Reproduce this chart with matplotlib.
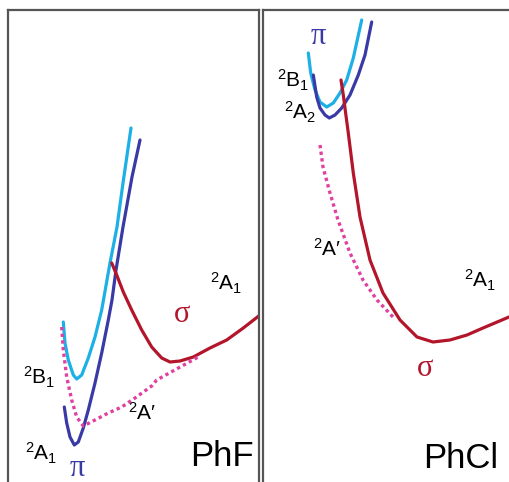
import numpy as np
import matplotlib.pyplot as plt

plt.rcParams['font.family'] = ['Liberation Sans', 'DejaVu Sans']
plt.rcParams['mathtext.fontset'] = 'custom'
plt.rcParams['mathtext.rm'] = 'Liberation Sans'
plt.rcParams['mathtext.it'] = 'Liberation Sans:italic'

# curves: x = coordinate, E = energy (arbitrary units)
# PhF panel
phf_b1_x = [55.3, 57, 60.3, 65.3, 68.7, 73.7, 80.3, 87, 93.7, 102, 109, 115, 123]
phf_b1_e = [160, 139, 122, 107, 103, 107, 124, 145, 172, 219, 255, 299, 354]
phf_a1_x = [56.3, 58.7, 62, 66.3, 70.3, 75.3, 80.3, 87, 93.7, 100.3, 104, 108, 115, 124, 132]
phf_a1_e = [75, 59, 45, 37, 40, 54, 72, 99, 129, 162, 182, 212, 255, 305, 342]
phf_sig_x = [103.7, 108.7, 115.3, 123.7, 133.7, 143.7, 153.7, 162, 172, 185.3, 202, 218.7, 235.3, 252]
phf_sig_e = [219, 207, 190, 172, 152, 135, 124, 120, 121, 125, 134, 142, 154, 167]
phf_ap_x = [53.7, 55.3, 58.7, 63.7, 68.7, 75.3, 87, 100.3, 113.7, 127, 143.7, 148.7, 192]
phf_ap_e = [155, 132, 105, 82, 65, 56, 62, 69, 75, 84, 96, 102, 126]

# PhCl panel
phcl_b1_x = [45.3, 47.7, 52, 57, 63.7, 70.3, 77, 83.7, 90.3, 98.7]
phcl_b1_e = [429, 409, 392, 380, 375, 379, 389, 402, 424, 462]
phcl_a2_x = [50.3, 53.7, 57, 62, 66.3, 72, 78.7, 87, 95.3, 102, 108.7]
phcl_a2_e = [407, 385, 374, 367, 364, 367, 374, 387, 407, 427, 460]
phcl_sig_x = [78, 80.3, 82.5, 85.3, 90.3, 97, 107, 120, 137, 154, 170, 187, 204, 220, 246]
phcl_sig_e = [402, 387, 370, 349, 309, 265, 222, 189, 162, 145, 140, 142, 147, 154, 165]
phcl_ap_x = [57, 60, 67, 75, 87, 100, 114, 130]
phcl_ap_e = [337, 315, 289, 262, 229, 202, 182, 165]

c_b1 = '#1cb0e6'
c_a1 = '#3a3aa6'
c_sig = '#b3152b'
c_ap = '#e0409f'

fig = plt.figure(figsize=(5.09, 4.82), dpi=100)
W, H = 509, 482

def panel(left, right):
    ax = fig.add_axes([left / W, 0, (right - left) / W, (H - 10) / H])
    ax.set_xlim(0, right - left)
    ax.set_ylim(0, H - 10)
    ax.set_xticks([])
    ax.set_yticks([])
    for s in ax.spines.values():
        s.set_color('#555555')
        s.set_linewidth(1.6)
    ax.spines['bottom'].set_visible(False)
    return ax

ax1 = panel(8, 259)
ax2 = panel(263, 512)
ax2.spines['right'].set_visible(False)

solid = dict(lw=2.3, solid_capstyle='round', solid_joinstyle='round')
dots = dict(lw=2.4, ls=(0, (1, 1)))

ax1.plot(phf_b1_x, phf_b1_e, color=c_b1, **solid)
ax1.plot(phf_a1_x, phf_a1_e, color=c_a1, **solid)
ax1.plot(phf_sig_x, phf_sig_e, color=c_sig, **solid)
ax1.plot(phf_ap_x, phf_ap_e, color=c_ap, **dots)

ax2.plot(phcl_b1_x, phcl_b1_e, color=c_b1, **solid)
ax2.plot(phcl_a2_x, phcl_a2_e, color=c_a1, **solid)
ax2.plot(phcl_sig_x, phcl_sig_e, color=c_sig, **solid)
ax2.plot(phcl_ap_x, phcl_ap_e, color=c_ap, **dots)

lab = dict(fontsize=15, ha='center', va='center')
greek = dict(fontsize=22, ha='center', va='center', family='Liberation Serif')

ax1.text(218, 199, r'$\mathrm{^2A_1}$', **lab)
ax1.text(174, 168, 'σ', color=c_sig, **greek)
ax1.text(31, 105, r'$\mathrm{^2B_1}$', **lab)
ax1.text(134, 69, r'$\mathrm{^2A}$′', **lab)
ax1.text(33, 29, r'$\mathrm{^2A_1}$', **lab)
ax1.text(69, 13, 'π', color=c_a1, **greek)
ax1.text(214, 26, 'PhF', fontsize=25, ha='center', va='center')

ax2.text(55, 446, 'π', color=c_a1, **greek)
ax2.text(30, 402, r'$\mathrm{^2B_1}$', **lab)
ax2.text(37, 370, r'$\mathrm{^2A_2}$', **lab)
ax2.text(64, 233, r'$\mathrm{^2A}$′', **lab)
ax2.text(217, 202, r'$\mathrm{^2A_1}$', **lab)
ax2.text(162, 113, 'σ', color=c_sig, **greek)
ax2.text(198, 24, 'PhCl', fontsize=25, ha='center', va='center')

fig.savefig('out.png', dpi=100)
